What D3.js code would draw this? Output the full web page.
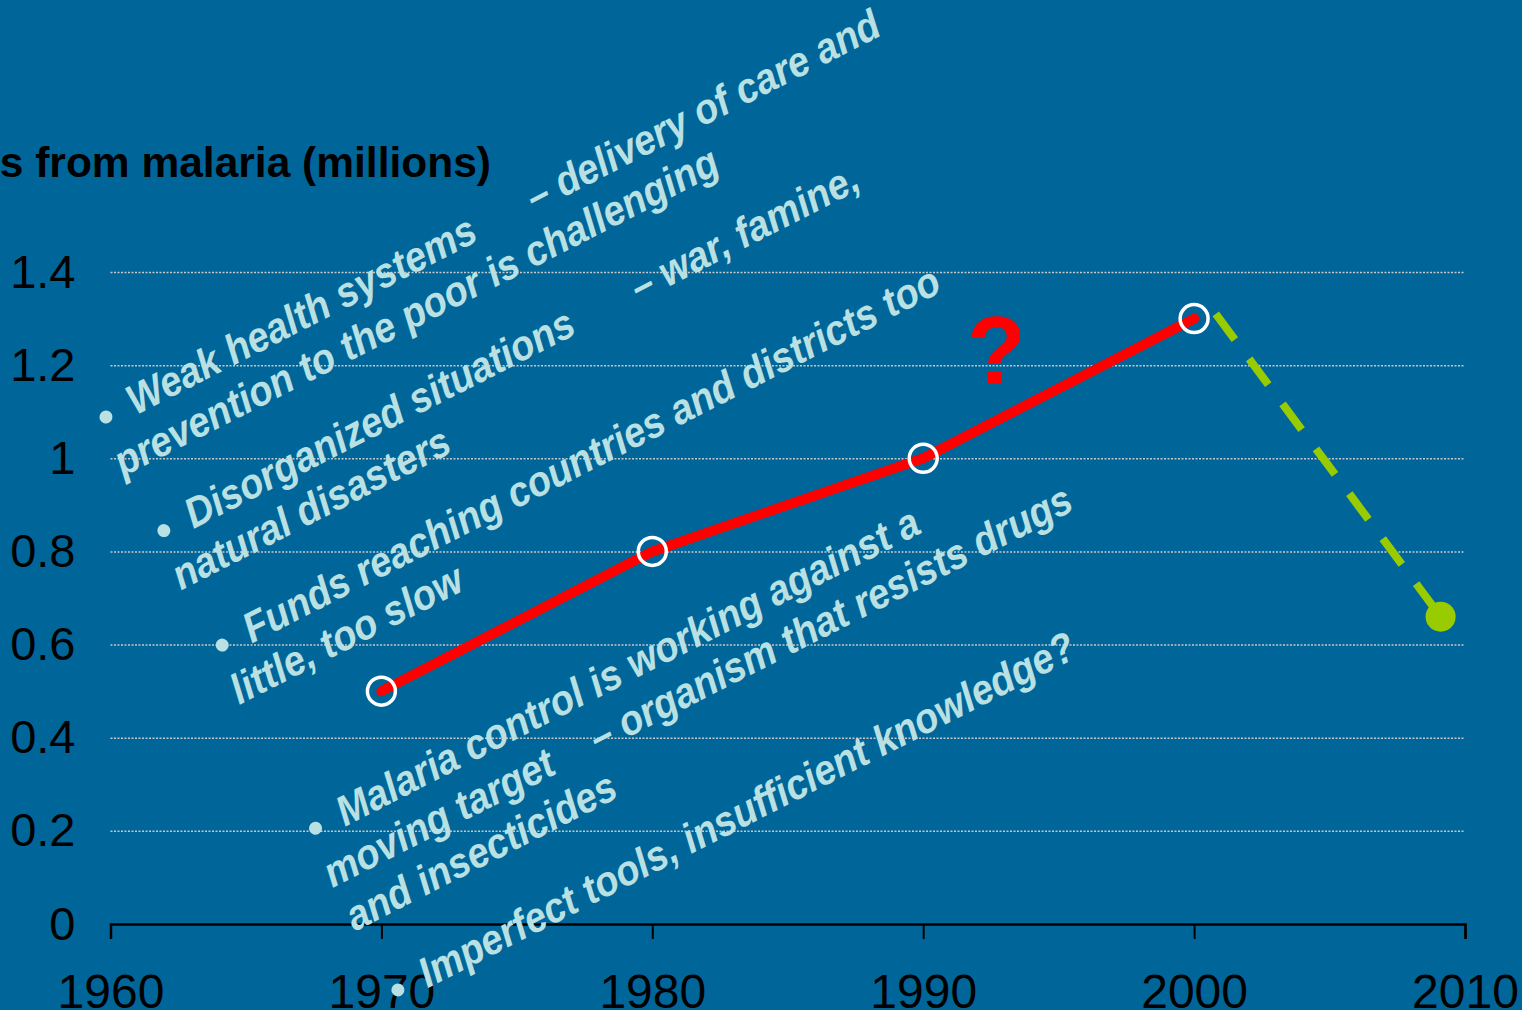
<!DOCTYPE html>
<html>
<head>
<meta charset="utf-8">
<script src="https://cdn.jsdelivr.net/npm/d3@7"></script>
<style>
  html, body { margin: 0; padding: 0; background: #006699; overflow: hidden; }
  svg { display: block; }
</style>
</head>
<body>
<svg id="chart" width="1522" height="1010"></svg>
<script>
// Malaria deaths per decade (millions)
const years = [1970, 1980, 1990, 2000];
const deaths = [0.5, 0.8, 1.0, 1.3];

// Projected decline after 2000
const projYears = [2000.8, 2009.1];
const projDeaths = [1.31, 0.66];

// Axis ticks
const yTicks = [0, 0.2, 0.4, 0.6, 0.8, 1.0, 1.2, 1.4];
const yTickLabels = ["0", "0.2", "0.4", "0.6", "0.8", "1", "1.2", "1.4"];
const xTicks = [1960, 1970, 1980, 1990, 2000, 2010];
const xTickLabels = ["1960", "1970", "1980", "1990", "2000", "2010"];

const axisTitle = "Deaths from malaria (millions)";

// Obstacles, one entry per bullet; each line is [text, offset along the line]
const obstacles = [
  [[["Weak health systems", 27], ["\u2013 delivery of care and", 475]],
   [["prevention to the poor is challenging", -12]]],
  [[["Disorganized situations", 27], ["\u2013 war, famine,", 527]],
   [["natural disasters", -12]]],
  [[["Funds reaching countries and districts too", 27]],
   [["little, too slow", -12]]],
  [[["Malaria control is working against a", 27]],
   [["moving target", -12], ["\u2013 organism that resists drugs", 286]],
   [["and insecticides", -12]]],
  [[["Imperfect tools, insufficient knowledge?", 27]]]
];
// Perpendicular offsets of each bullet within the rotated text block
const bulletOffsets = [0, 127.5, 256, 461.5, 643];

const svg = d3.select("#chart");
const W = 1522, H = 1010;
const plotLeft = 110.5, plotRight = 1465, plotTop = 272, plotBottom = 924;

svg.append("rect").attr("width", W).attr("height", H).attr("fill", "#006699");

const x = d3.scaleLinear().domain([1960, 2010]).range([plotLeft, plotRight]);
const y = d3.scaleLinear().domain([0, 1.4]).range([plotBottom, plotTop]);

const font = "'Liberation Sans', Arial, Helvetica, sans-serif";

// Y axis with dotted gridlines
const yAxis = d3.axisLeft(y)
  .tickValues(yTicks)
  .tickFormat((d, i) => yTickLabels[i])
  .tickSizeInner(-(plotRight - plotLeft))
  .tickSizeOuter(0)
  .tickPadding(35);

const gy = svg.append("g").attr("transform", `translate(${plotLeft},0)`).call(yAxis);
gy.select(".domain").remove();
gy.selectAll(".tick line")
  .attr("stroke", "#c8c8c8")
  .attr("stroke-width", 1.5)
  .attr("stroke-dasharray", "2,1.5")
  .filter(d => d === 0).remove();
gy.selectAll(".tick text")
  .attr("fill", "#000")
  .style("font-family", font)
  .style("font-size", "47px");

// X axis
const xAxis = d3.axisBottom(x)
  .tickValues(xTicks)
  .tickFormat((d, i) => xTickLabels[i])
  .tickSizeInner(15)
  .tickSizeOuter(15)
  .tickPadding(35);

const gx = svg.append("g").attr("transform", `translate(0,${plotBottom})`).call(xAxis);
gx.select(".domain").attr("stroke", "#000").attr("stroke-width", 2.5);
gx.selectAll(".tick line").attr("stroke", "#000").attr("stroke-width", 2);
gx.selectAll(".tick text")
  .attr("fill", "#000")
  .style("font-family", font)
  .style("font-size", "48px");

// Axis title (runs off the left edge)
svg.append("text")
  .attr("x", 491).attr("y", 177)
  .attr("text-anchor", "end")
  .style("font-family", font)
  .style("font-weight", "bold")
  .style("font-size", "42.5px")
  .attr("fill", "#000")
  .text(axisTitle);

// Rotated list of obstacles
const block = svg.append("g")
  .attr("transform", "translate(106,417) rotate(-27)")
  .attr("fill", "#b9e0e3")
  .style("font-family", font)
  .style("font-weight", "bold")
  .style("font-style", "italic")
  .style("font-size", "38.3px");

const lineGap = 49;
obstacles.forEach((item, i) => {
  const v0 = bulletOffsets[i];
  block.append("circle").attr("cx", 0).attr("cy", v0).attr("r", 6.5);
  item.forEach((line, j) => {
    line.forEach(([txt, u]) => {
      block.append("text")
        .attr("transform", `translate(${u},${v0 + 12 + j * lineGap}) scale(1,1.1)`)
        .text(txt);
    });
  });
});

// Projection (dashed green)
const proj = projYears.map((yr, i) => [x(yr), y(projDeaths[i])]);
svg.append("path")
  .attr("d", d3.line()(proj))
  .attr("fill", "none")
  .attr("stroke", "#99cc00")
  .attr("stroke-width", 8)
  .attr("stroke-dasharray", "32,24");
svg.append("circle")
  .attr("cx", proj[1][0]).attr("cy", proj[1][1])
  .attr("r", 15).attr("fill", "#99cc00");

// Historical deaths (red)
const pts = years.map((yr, i) => [x(yr), y(deaths[i])]);
svg.append("path")
  .attr("d", d3.line()(pts))
  .attr("fill", "none")
  .attr("stroke", "#ff0000")
  .attr("stroke-width", 10)
  .attr("stroke-linecap", "round")
  .attr("stroke-linejoin", "round");
svg.selectAll("circle.marker")
  .data(pts)
  .join("circle")
  .attr("class", "marker")
  .attr("cx", d => d[0]).attr("cy", d => d[1])
  .attr("r", 14)
  .attr("fill", "none")
  .attr("stroke", "#ffffff")
  .attr("stroke-width", 3.5);

// Question mark over the rising trend
svg.append("text")
  .attr("x", x(1992.7)).attr("y", y(1.16))
  .attr("text-anchor", "middle")
  .style("font-family", font)
  .style("font-weight", "bold")
  .style("font-size", "96px")
  .attr("fill", "#ff0000")
  .text("?");
</script>
</body>
</html>
